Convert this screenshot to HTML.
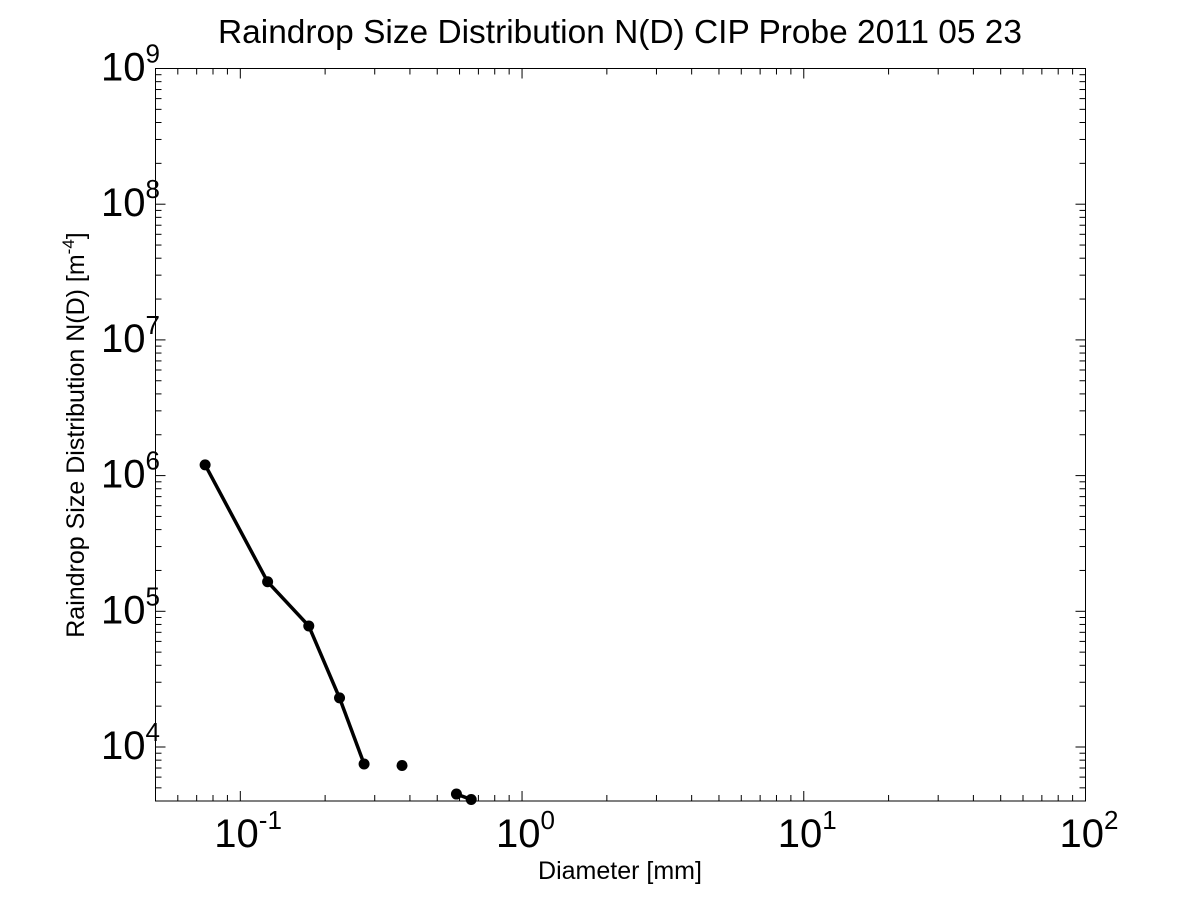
<!DOCTYPE html>
<html><head><meta charset="utf-8"><style>
html,body{margin:0;padding:0;background:#fff}
svg text{font-family:"Liberation Sans",Arial,sans-serif;fill:#000}
</style></head><body>
<svg id="chart" width="1200" height="900" xmlns="http://www.w3.org/2000/svg">
<rect width="1200" height="900" fill="#fff"/>
<text x="620" y="43" font-size="33" text-anchor="middle" textLength="804" lengthAdjust="spacingAndGlyphs">Raindrop Size Distribution N(D) CIP Probe 2011 05 23</text>
<text x="620" y="879" font-size="25" text-anchor="middle">Diameter [mm]</text>
<text transform="translate(84,435) rotate(-90)" font-size="25" text-anchor="middle">Raindrop Size Distribution N(D) [m<tspan dy="-10" font-size="17">-4</tspan><tspan dy="10">]</tspan></text>
<g id="ticks"></g>
<g id="marks"></g>
<rect x="155.5" y="68.5" width="930" height="732.5" fill="none" stroke="#000" stroke-width="1"/>
</svg>
<script>
const diameters = [0.075, 0.125, 0.175, 0.225, 0.275, 0.325, 0.375, 0.425, 0.475, 0.525, 0.585, 0.66];
const counts = [1.2e6, 1.65e5, 7.8e4, 2.3e4, 7.5e3, null, 7.3e3, null, null, null, 4.5e3, 4.1e3];
const xDecades = [-1, 0, 1, 2];
const yDecades = [4, 5, 6, 7, 8, 9];

const L=155.5, R=1085.5, T=68.5, B=801;
const xMin=Math.log10(0.05), xMax=2, yMin=Math.log10(4000), yMax=9;
const X=v=>L+(Math.log10(v)-xMin)/(xMax-xMin)*(R-L);
const Y=v=>B-(Math.log10(v)-yMin)/(yMax-yMin)*(B-T);
const NS="http://www.w3.org/2000/svg";
const ticks=document.getElementById('ticks'), marks=document.getElementById('marks');
function line(g,x1,y1,x2,y2,w){const l=document.createElementNS(NS,'line');l.setAttribute('x1',x1);l.setAttribute('y1',y1);l.setAttribute('x2',x2);l.setAttribute('y2',y2);l.setAttribute('stroke','#000');l.setAttribute('stroke-width',w||1);g.appendChild(l);return l;}
for(let d=-2; d<=2; d++){for(let m=1;m<=9;m++){const v=m*Math.pow(10,d);if(v<0.05||v>100)continue;const x=X(v);const len=m===1?10:6;
const a=line(ticks,x,B,x,B-len);
const b=line(ticks,x,T,x,T+len);}}
xDecades.forEach(d=>{const t=document.createElementNS(NS,'text');t.setAttribute('x',X(Math.pow(10,d))-26);t.setAttribute('y',B+46);t.setAttribute('font-size','40');


t.innerHTML='10<tspan dy="-18" font-size="26">'+d+'</tspan>';ticks.appendChild(t);});
for(let d=3; d<=9; d++){for(let m=1;m<=9;m++){const v=m*Math.pow(10,d);if(v<4000||v>1e9)continue;const y=Y(v);const len=m===1?10:6;
const a=line(ticks,L,y,L+len,y);
const b=line(ticks,R,y,R-len,y);}}
yDecades.forEach(d=>{const t=document.createElementNS(NS,'text');t.setAttribute('x',101);t.setAttribute('y',Y(Math.pow(10,d))+12);t.setAttribute('font-size','40');


t.innerHTML='10<tspan dy="-18" font-size="26">'+d+'</tspan>';ticks.appendChild(t);});
for(let i=0;i<diameters.length-1;i++){if(counts[i]==null||counts[i+1]==null)continue;
const s=line(marks,X(diameters[i]),Y(counts[i]),X(diameters[i+1]),Y(counts[i+1]),3.5);

}
diameters.forEach((d,i)=>{if(counts[i]==null)return;const c=document.createElementNS(NS,'circle');c.setAttribute('cx',X(d));c.setAttribute('cy',Y(counts[i]));c.setAttribute('r','5.5');c.setAttribute('fill','#000');


marks.appendChild(c);});
</script>
</body></html>
